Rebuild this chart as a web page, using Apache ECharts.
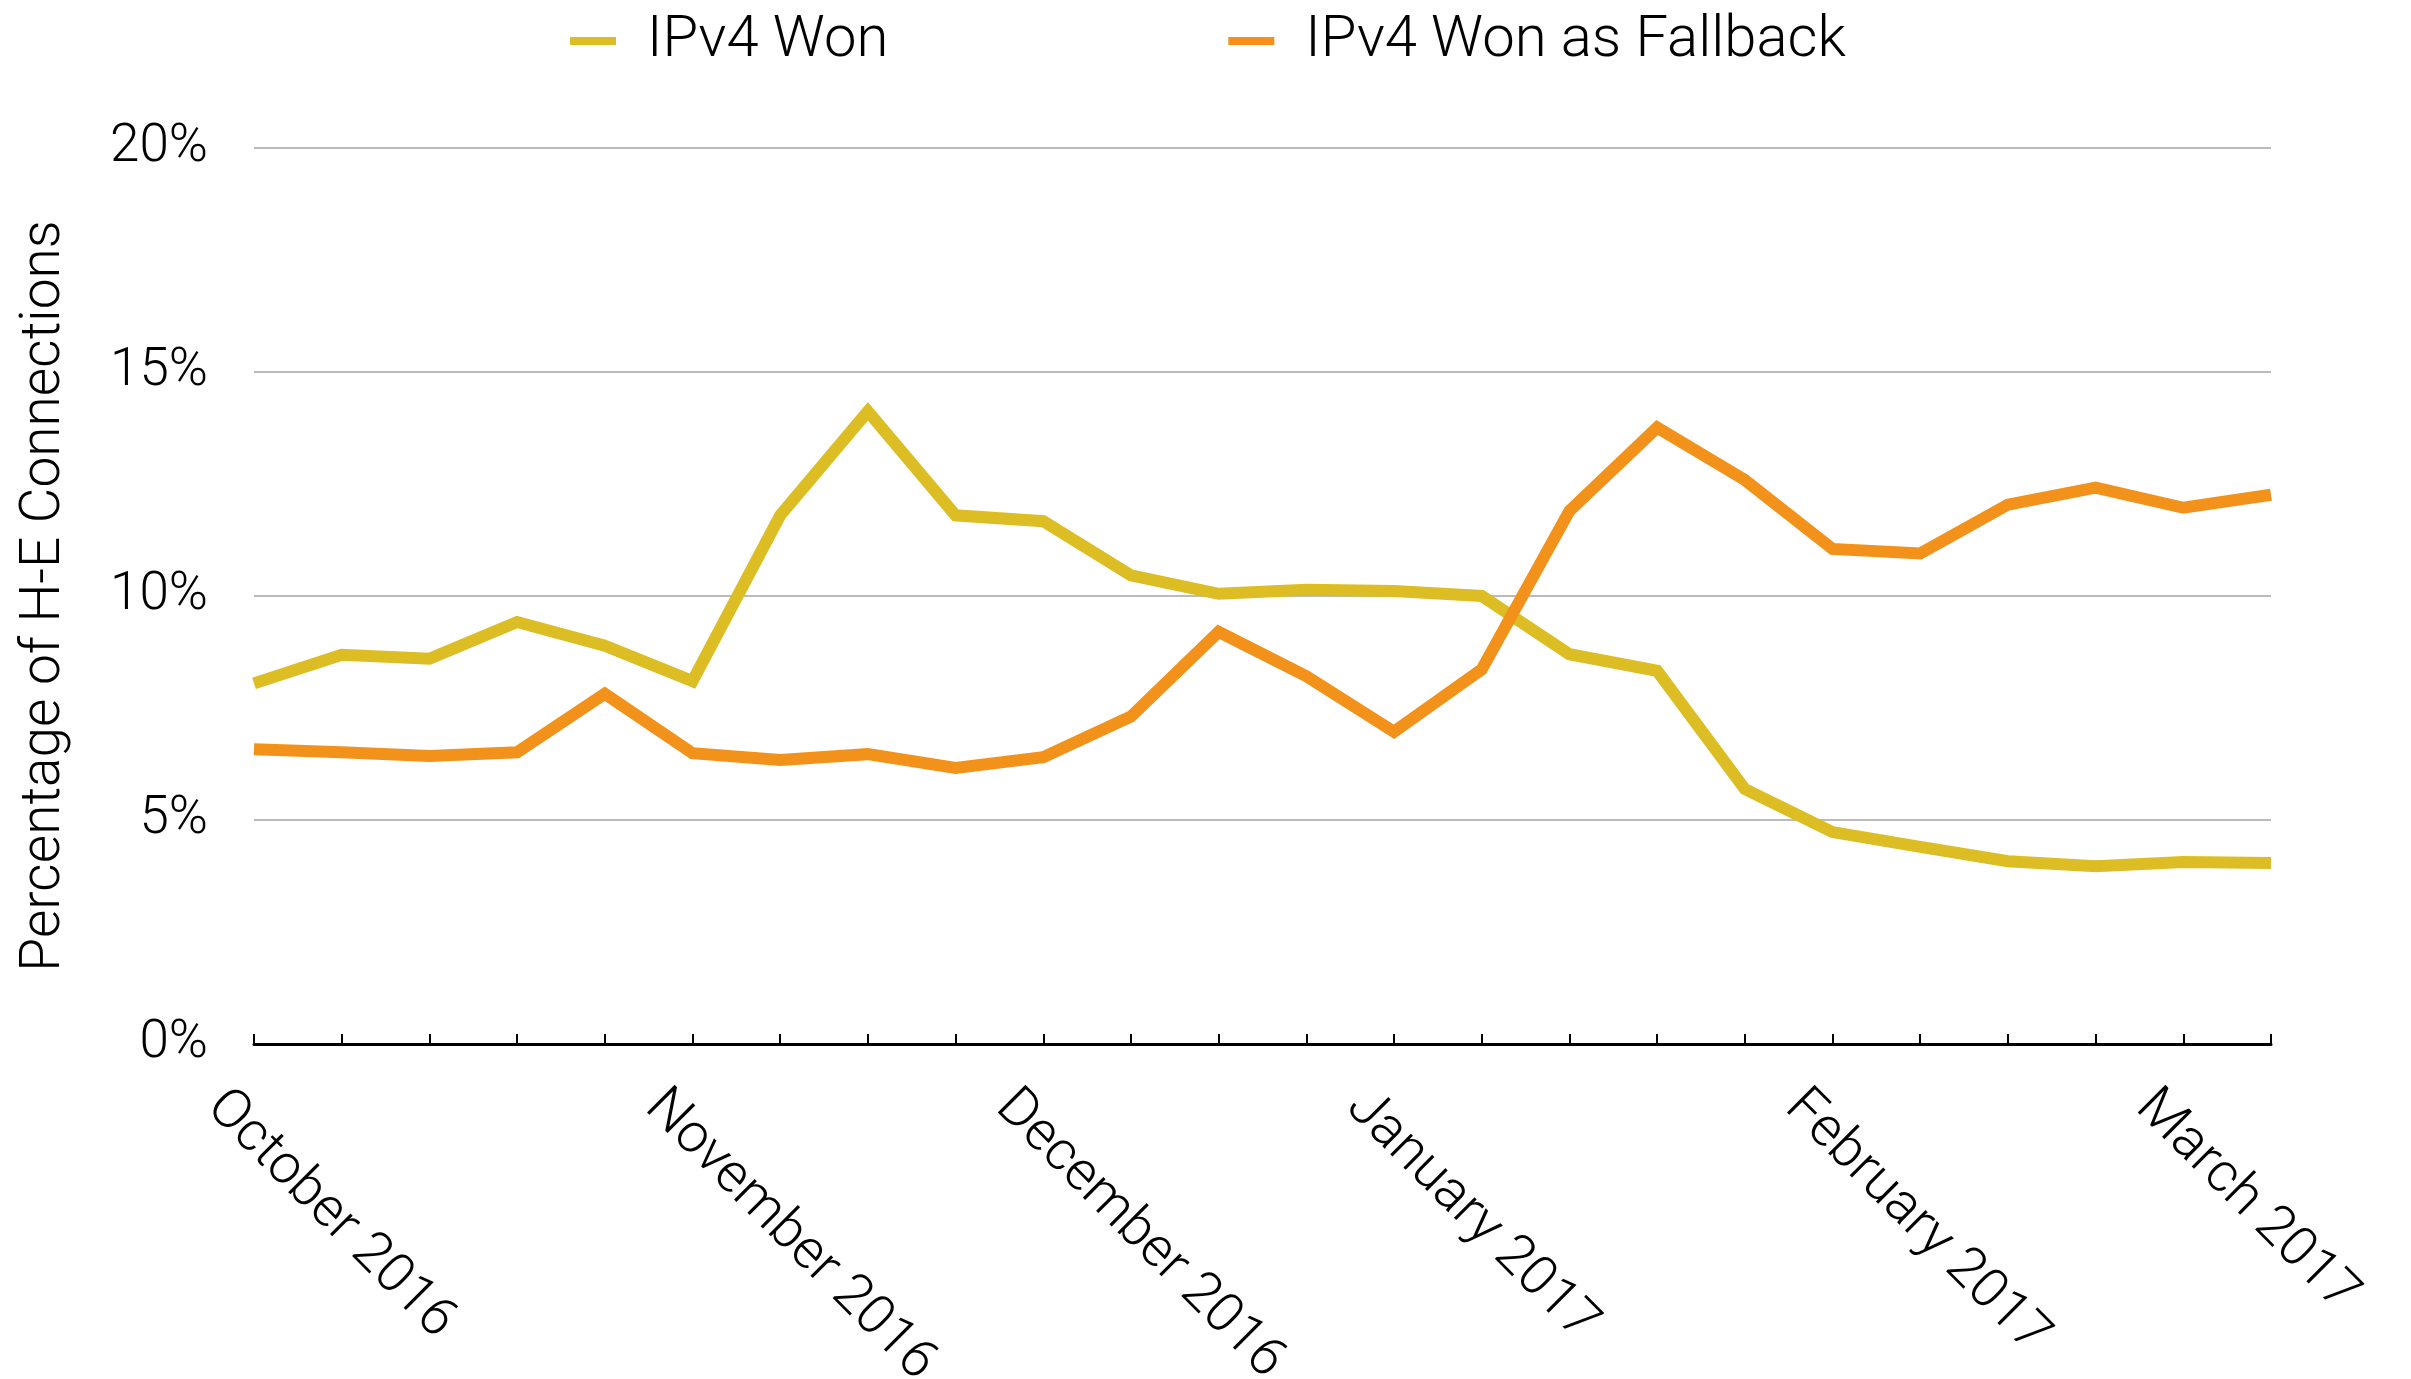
<!DOCTYPE html>
<html>
<head>
<meta charset="utf-8">
<script src="https://cdn.jsdelivr.net/npm/echarts@6/dist/echarts.min.js"></script>
<style>
  html, body { margin: 0; padding: 0; background: #fff; }
  #chart { width: 2411px; height: 1379px; }
</style>
</head>
<body>
<div id="chart"></div>
<script>
// weekly points, Oct 2016 - Mar 2017; only month starts carry a label
const weekLabels = [
  'October 2016', '', '', '', '',
  'November 2016', '', '', '',
  'December 2016', '', '', '',
  'January 2017', '', '', '', '',
  'February 2017', '', '', '',
  'March 2017', ''
];
const ipv4Won = [
  8.05, 8.69, 8.60, 9.42, 8.89, 8.10, 11.80, 14.12, 11.80, 11.67, 10.46, 10.05,
  10.14, 10.11, 10.00, 8.70, 8.33, 5.69, 4.73, 4.40, 4.08, 3.97, 4.06, 4.04
];
const ipv4Fallback = [
  6.58, 6.51, 6.43, 6.51, 7.82, 6.49, 6.34, 6.47, 6.16, 6.40, 7.31, 9.20,
  8.21, 6.97, 8.36, 11.90, 13.76, 12.59, 11.05, 10.95, 12.04, 12.42, 11.97, 12.26
];
const yTicks = [0, 5, 10, 15, 20];

const FONT = '"Helvetica Neue", Roboto, "Liberation Sans", sans-serif';

const chart = echarts.init(document.getElementById('chart'));

chart.setOption({
  animation: false,
  textStyle: { fontFamily: FONT, fontWeight: 300, color: '#000' },
  legend: {
    top: 7,
    left: 565,
    itemWidth: 46,
    itemHeight: 8,
    itemGap: 340,
    icon: 'rect',
    textStyle: { fontSize: 58, fontWeight: 300, color: '#000', fontFamily: FONT, padding: [0, 0, 0, 26] },
    data: ['IPv4 Won', 'IPv4 Won as Fallback']
  },
  grid: { left: 254, right: 140, top: 148, bottom: 335, outerBoundsMode: 'none', containLabel: false },
  xAxis: {
    type: 'category',
    boundaryGap: false,
    data: weekLabels,
    axisLine: { lineStyle: { color: '#000', width: 3 } },
    axisTick: { show: true, inside: true, length: 10, interval: 0, lineStyle: { color: '#000', width: 2 } },
    axisLabel: {
      interval: (i) => weekLabels[i] !== '',
      rotate: -45,
      margin: 16,
      verticalAlign: 'top',
      padding: [28, 0, 0, 0],
      fontSize: 55,
      fontWeight: 300,
      color: '#000',
      fontFamily: FONT
    },
    splitLine: { show: false }
  },
  yAxis: {
    type: 'value',
    min: yTicks[0],
    max: yTicks[yTicks.length - 1],
    interval: 5,
    name: 'Percentage of H-E Connections',
    nameLocation: 'middle',
    nameGap: 181,
    nameTextStyle: { fontSize: 55, fontWeight: 300, color: '#000', fontFamily: FONT },
    axisLine: { show: false },
    axisTick: { show: false },
    axisLabel: {
      formatter: '{value}%',
      margin: 46,
      fontSize: 53,
      fontWeight: 300,
      color: '#000',
      fontFamily: FONT
    },
    splitLine: { lineStyle: { color: '#BBBBBB', width: 2 } }
  },
  series: [
    {
      name: 'IPv4 Won',
      type: 'line',
      data: ipv4Won,
      showSymbol: false,
      color: '#DCBE24',
      lineStyle: { width: 12, color: '#DCBE24', join: 'miter' }
    },
    {
      name: 'IPv4 Won as Fallback',
      type: 'line',
      data: ipv4Fallback,
      showSymbol: false,
      color: '#F3921B',
      lineStyle: { width: 12, color: '#F3921B', join: 'miter' }
    }
  ]
});
</script>
</body>
</html>
